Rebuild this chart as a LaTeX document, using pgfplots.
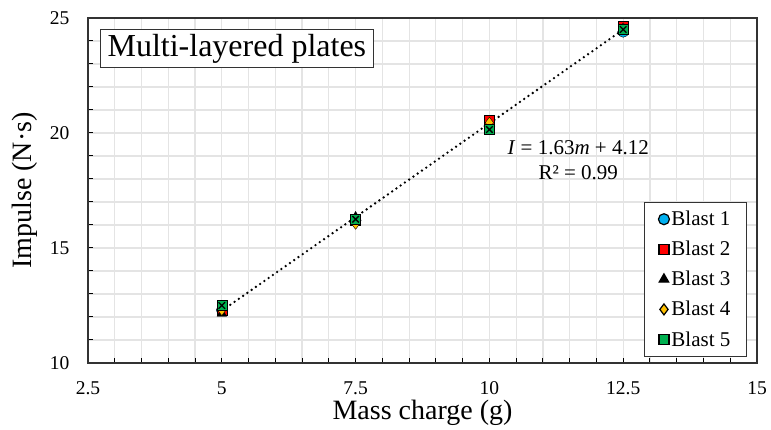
\documentclass[border=0pt]{standalone}
\usepackage{fontspec}
\setmainfont{Liberation Serif}
\usepackage{pgfplots}
\pgfplotsset{compat=1.18}

\definecolor{b1}{RGB}{0,176,240}
\definecolor{b2}{RGB}{255,0,0}
\definecolor{b4}{RGB}{255,192,0}
\definecolor{b5}{RGB}{0,176,80}
\definecolor{gridc}{RGB}{228,228,228}

\begin{document}
\begin{tikzpicture}
\begin{axis}[
  scale only axis,
  width=669pt, height=345pt,
  xmin=2.5, xmax=15, ymin=10, ymax=25,
  xtick={2.5,5,7.5,10,12.5,15},
  ytick={10,15,20,25},
  minor x tick num=4,
  minor y tick num=4,
  grid=both,
  major grid style={gridc, line width=1.2pt},
  minor grid style={gridc, line width=1.2pt},
  tick pos=left,
  tick align=inside,
  major tick length=5pt,
  minor tick length=5pt,
  tick style={black, line width=1pt},
  axis line style={black!80, line width=1.6pt},
  /pgf/number format/assume math mode=true,
  ticklabel style={font=\fontsize{19.5}{22}\selectfont},
  xticklabel style={anchor=center, yshift=-25pt},
  yticklabel style={anchor=east, xshift=-15pt},
  xlabel={Mass charge (g)},
  ylabel={Impulse (N·s)},
  label style={font=\fontsize{28}{30}\selectfont},
  xlabel style={at={(axis description cs:0.5,-0.145)}, anchor=center},
  ylabel style={at={(axis description cs:-0.094,0.5)}, anchor=center},
  legend cell align=left,
  legend style={at={(0.985,0.017)}, anchor=south east,
    draw=black!80, line width=1.2pt, font=\fontsize{21}{23}\selectfont,
    row sep=10pt, inner xsep=14pt, inner ysep=7pt,
    /tikz/every even column/.append style={column sep=4pt}},
  legend image code/.code={\draw[mark repeat=2,mark phase=2] plot coordinates {(0cm,0cm)(0.1cm,0cm)(0.2cm,0cm)};},
]
\addplot[black, line width=2.6pt, line cap=round, dash pattern=on 0pt off 5.2pt, forget plot]
  coordinates {(5,12.27)(12.5,24.495)};

\addplot[only marks, mark=*, mark size=5.5pt, draw=black, fill=b1]
  coordinates {(5,12.3)(7.5,16.2)(10,20.3)(12.5,24.4)};
\addlegendentry{Blast 1}
\addplot[only marks, mark=square*, mark size=5pt, draw=black, fill=b2]
  coordinates {(5,12.3)(7.5,16.2)(10,20.55)(12.5,24.65)};
\addlegendentry{Blast 2}
\addplot[only marks, mark=triangle*, mark size=5.5pt, draw=black, fill=black]
  coordinates {(5,12.15)(7.5,16.35)(10,20.2)(12.5,24.5)};
\addlegendentry{Blast 3}
\addplot[only marks, mark=diamond*, mark size=5.5pt, draw=black, fill=b4]
  coordinates {(5,12.3)(7.5,16.05)(10,20.45)(12.5,24.55)};
\addlegendentry{Blast 4}
\addplot[only marks, mark=square*, mark size=5pt, draw=black, fill=b5]
  coordinates {(5,12.5)(7.5,16.25)(10,20.15)(12.5,24.5)};
\addlegendentry{Blast 5}
\addplot[only marks, mark=x, mark size=4.6pt, black, line width=1.3pt, forget plot]
  coordinates {(5,12.5)(7.5,16.25)(10,20.15)(12.5,24.5)};

\node[draw=black!80, line width=1.2pt, fill=white, anchor=north west,
  font=\fontsize{32}{34}\selectfont, inner xsep=7pt, inner ysep=4.5pt]
  at (axis cs:2.724,24.52) {Multi-layered plates};
\node[align=center, font=\fontsize{21}{25}\selectfont]
  at (axis cs:11.66,18.83) {\textit{I} = 1.63\textit{m} + 4.12\\R² = 0.99};
\end{axis}
\path ([xshift=-88pt,yshift=-67pt]current axis.south west)
  rectangle ([xshift=14pt,yshift=18pt]current axis.north east);
\end{tikzpicture}
\end{document}
